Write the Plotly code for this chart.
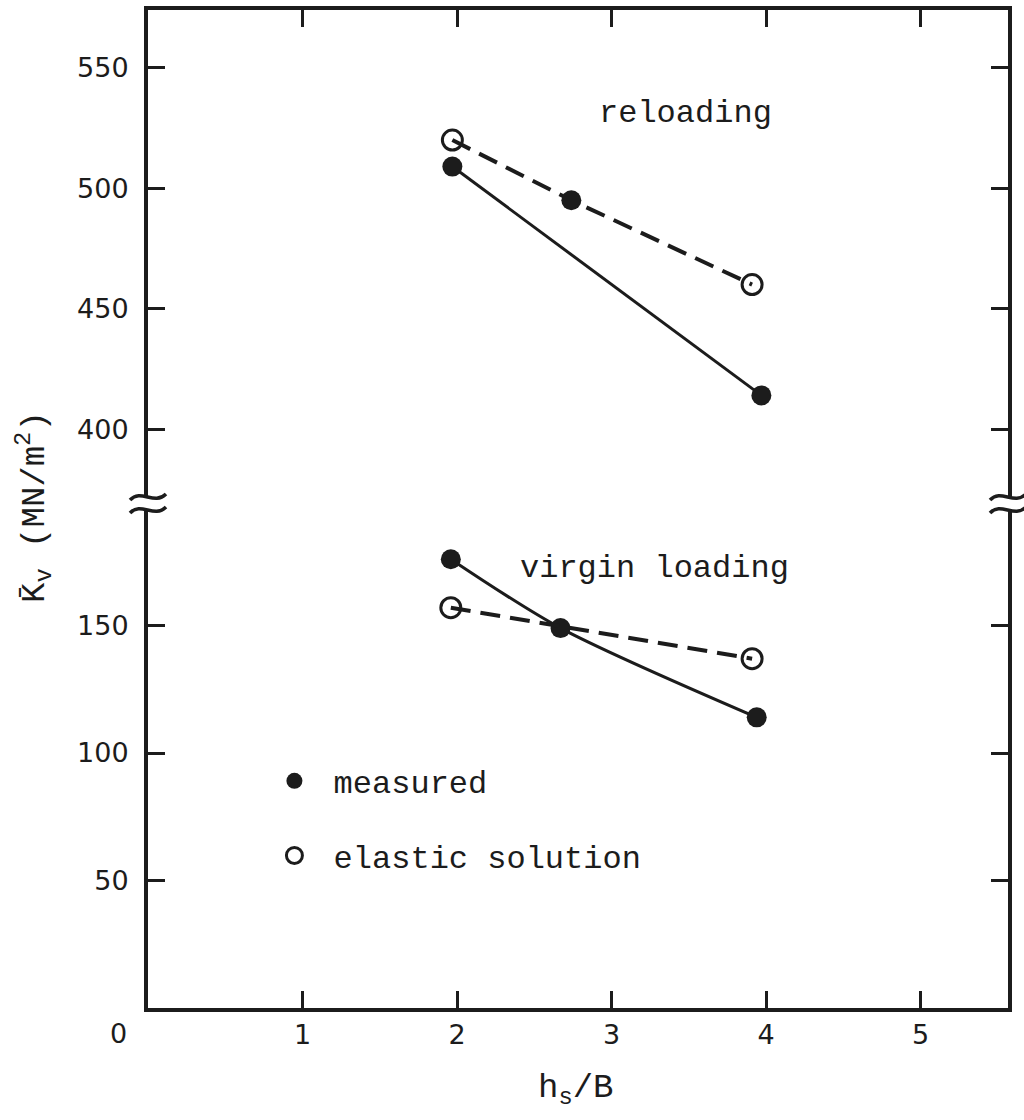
import plotly.graph_objects as go

# ---------------- data ----------------
x_ticks = [1, 2, 3, 4, 5]
y_ticks_low = [50, 100, 150]
y_ticks_up = [400, 450, 500, 550]

# reloading (upper panel)
reload_meas_x = [1.97, 3.97]
reload_meas_y = [509, 414]
reload_elas_x = [1.97, 2.74, 3.91]
reload_elas_y = [520, 495, 460]
reload_elas_symbols = ["circle-open", "circle", "circle-open"]

# virgin loading (lower panel)
virgin_meas_x = [1.96, 2.67, 3.94]
virgin_meas_y = [176, 149, 114]
virgin_elas_x = [1.96, 3.91]
virgin_elas_y = [157, 137]

# ---------------- layout constants ----------------
W, H = 1024, 1120
ML, MR, MT, MB = 148, 16, 10, 112
PW, PH = W - ML - MR, H - MT - MB
INK = "#1c1c1c"
MONO = "Liberation Mono, Courier New, monospace"
SANS = "DejaVu Sans"

low_dom = [0, 0.499]
up_dom = [0.512, 1]

fig = go.Figure()

# upper panel traces
fig.add_trace(go.Scatter(x=reload_meas_x, y=reload_meas_y, xaxis="x2", yaxis="y2",
                         mode="lines+markers", showlegend=False,
                         line=dict(color=INK, width=3),
                         marker=dict(size=20, color=INK)))
fig.add_trace(go.Scatter(x=reload_elas_x, y=reload_elas_y, xaxis="x2", yaxis="y2",
                         mode="lines+markers", showlegend=False,
                         line=dict(color=INK, width=4, dash="20px,10px"),
                         marker=dict(size=20, color=INK, symbol=reload_elas_symbols,
                                     line=dict(width=[3, 0, 3], color=INK))))
# lower panel traces
fig.add_trace(go.Scatter(x=virgin_meas_x, y=virgin_meas_y, xaxis="x", yaxis="y",
                         mode="lines+markers", showlegend=False,
                         line=dict(color=INK, width=3, shape="spline", smoothing=0.8),
                         marker=dict(size=20, color=INK)))
fig.add_trace(go.Scatter(x=virgin_elas_x, y=virgin_elas_y, xaxis="x", yaxis="y",
                         mode="lines+markers", showlegend=False,
                         line=dict(color=INK, width=4, dash="20px,10px"),
                         marker=dict(size=20, color=INK, symbol="circle-open",
                                     line=dict(width=3, color=INK))))

# legend entries
fig.add_trace(go.Scatter(x=[None], y=[None], mode="markers", name=" measured",
                         legendgroup="a", marker=dict(size=20, color=INK)))
fig.add_trace(go.Scatter(x=[None], y=[None], mode="markers", name=" elastic solution",
                         legendgroup="b", marker=dict(size=20, color=INK, symbol="circle-open",
                                                      line=dict(width=3, color=INK))))

axis_common = dict(showline=True, linecolor=INK, linewidth=4, ticks="inside",
                   ticklen=17, tickwidth=3, tickcolor=INK, showgrid=False,
                   zeroline=False, tickfont=dict(family=SANS, size=27, color=INK))

fig.update_layout(
    width=W, height=H,
    margin=dict(l=ML, r=MR, t=MT, b=MB),
    paper_bgcolor="white", plot_bgcolor="white",
    xaxis=dict(domain=[0, 1], anchor="y", range=[0, PW / 154.5],
               tickmode="array", tickvals=x_ticks, ticktext=[str(v) for v in x_ticks],
               **axis_common),
    xaxis2=dict(domain=[0, 1], anchor="y2", matches="x", side="top",
                tickmode="array", tickvals=x_ticks, showticklabels=False,
                **axis_common),
    yaxis=dict(domain=low_dom, anchor="x", range=[0, 195.3], mirror="ticks",
               tickmode="array", tickvals=y_ticks_low, ticklabelstandoff=10,
               **axis_common),
    yaxis2=dict(domain=up_dom, anchor="x2", range=[371.8, 574], mirror="ticks",
                tickmode="array", tickvals=y_ticks_up, ticklabelstandoff=10,
                **axis_common),
    legend=dict(x=0.147, y=0.255, xanchor="left", yanchor="top",
                font=dict(family=MONO, size=32, color=INK),
                tracegroupgap=30, bgcolor="rgba(0,0,0,0)"),
)

# text annotations
fig.add_annotation(x=3.48, y=531, xref="x2", yref="y2", text="reloading",
                   showarrow=False, font=dict(family=MONO, size=32, color=INK))
fig.add_annotation(x=3.28, y=172.5, xref="x", yref="y", text="virgin loading",
                   showarrow=False, font=dict(family=MONO, size=32, color=INK))
fig.add_annotation(x=0, y=0, xref="x", yref="paper", text="0", showarrow=False,
                   xshift=-30, yshift=-8, yanchor="top",
                   font=dict(family=SANS, size=27, color=INK))
fig.add_annotation(x=0.5, y=0, xref="paper", yref="paper",
                   text="h<sub>s</sub>/B", showarrow=False, yanchor="middle",
                   yshift=-82, xshift=-2,
                   font=dict(family=MONO, size=34, color=INK))
fig.add_annotation(x=0, y=0.5, xref="paper", yref="paper",
                   text="K\u0304<sub>v</sub> (MN/m<sup>2</sup>)", showarrow=False,
                   textangle=-90, xanchor="center", yanchor="middle",
                   xshift=-114, yshift=2,
                   font=dict(family=MONO, size=34, color=INK))

# axis break marks (decoration)
def wave(px_x, px_y):
    def P(dx, dy):
        return f"{(px_x + dx - ML) / PW:.5f},{(H - MB - (px_y + dy)) / PH:.5f}"
    return f"M {P(-18, 3)} C {P(-7, -9)} {P(6, 9)} {P(18, -3)}"

for col in (ML, ML + PW):
    for frac in (up_dom[0], low_dom[1]):
        py = H - MB - frac * PH
        fig.add_shape(type="path", xref="paper", yref="paper", path=wave(col, py),
                      line=dict(color=INK, width=3.5))

fig.write_html("out.html")
